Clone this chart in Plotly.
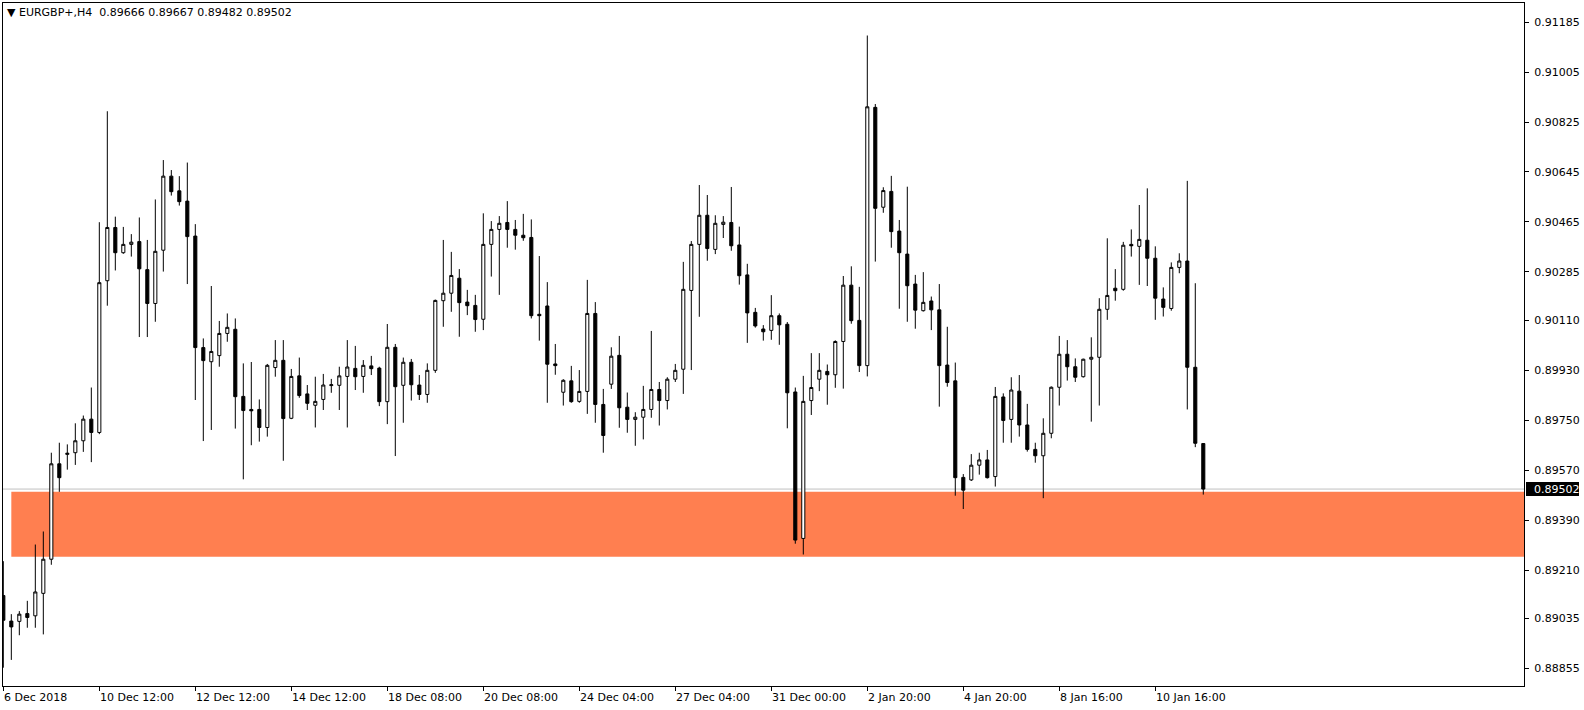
import plotly.graph_objects as go

# ---- data (EURGBP+, H4) ----
opens = [0.89118,0.89026,0.89025,0.89053,0.89045,0.89126,0.89249,0.89593,0.89627,0.89633,
 0.89676,0.89754,0.89706,0.90253,0.90445,0.90354,0.90384,0.90394,0.90293,0.90171,
 0.90363,0.90630,0.90577,0.90540,0.90414,0.90012,0.89961,0.89983,0.90063,0.90078,
 0.89836,0.89789,0.89789,0.89724,0.89940,0.89966,0.89757,0.89910,0.89845,0.89804,
 0.89825,0.89875,0.89876,0.89908,0.89937,0.89908,0.89946,0.89938,0.89817,0.90013,
 0.89876,0.89959,0.89877,0.89843,0.89930,0.90181,0.90208,0.90262,0.90176,0.90164,
 0.90114,0.90384,0.90438,0.90463,0.90438,0.90417,0.90409,0.90132,0.90162,0.89953,
 0.89851,0.89892,0.89818,0.89854,0.90135,0.89807,0.89880,0.89984,0.89797,0.89753,
 0.89761,0.89789,0.89861,0.89821,0.89898,0.89934,0.90218,0.90384,0.90489,0.90366,
 0.90456,0.90463,0.90382,0.90274,0.90139,0.90079,0.90074,0.90127,0.90096,0.89852,
 0.89324,0.89821,0.89898,0.89926,0.89914,0.90034,0.90237,0.90110,0.89947,0.90878,
 0.90518,0.90575,0.90432,0.90349,0.90241,0.90145,0.90180,0.90148,0.89949,0.89892,
 0.89544,0.89535,0.89588,0.89607,0.89547,0.89834,0.89753,0.89855,0.89733,0.89645,
 0.89622,0.89703,0.89869,0.89988,0.89943,0.89907,0.89970,0.89977,0.90150,0.90226,
 0.90222,0.90384,0.90377,0.90399,0.90334,0.90187,0.90153,0.90301,0.90324,0.89941,
 0.89666]
highs = [0.89242,0.89051,0.89062,0.89099,0.89302,0.89349,0.89633,0.89669,0.89663,0.89739,
 0.89767,0.89868,0.90464,0.90864,0.90484,0.90447,0.90421,0.90481,0.90400,0.90546,
 0.90688,0.90652,0.90630,0.90679,0.90457,0.90045,0.90234,0.90108,0.90135,0.90117,
 0.89955,0.89960,0.89825,0.89953,0.90039,0.90039,0.89935,0.89976,0.89877,0.89907,
 0.89917,0.89899,0.89943,0.90039,0.90018,0.89967,0.89982,0.89943,0.90097,0.90025,
 0.89976,0.89971,0.89913,0.89955,0.90185,0.90400,0.90357,0.90295,0.90220,0.90202,
 0.90496,0.90468,0.90486,0.90540,0.90472,0.90494,0.90474,0.90342,0.90248,0.90025,
 0.89898,0.89946,0.89931,0.90256,0.90176,0.89863,0.90013,0.90054,0.89850,0.89779,
 0.89874,0.90072,0.89888,0.89905,0.89953,0.90321,0.90396,0.90598,0.90562,0.90489,
 0.90486,0.90591,0.90448,0.90314,0.90155,0.90093,0.90201,0.90135,0.90104,0.89868,
 0.89910,0.89992,0.89992,0.89951,0.90038,0.90270,0.90305,0.90231,0.91137,0.90890,
 0.90590,0.90631,0.90472,0.90592,0.90274,0.90284,0.90196,0.90241,0.90087,0.89958,
 0.89556,0.89628,0.89633,0.89643,0.89870,0.89847,0.89905,0.89913,0.89809,0.89669,
 0.89757,0.89872,0.90054,0.90039,0.89973,0.89972,0.90049,0.90190,0.90406,0.90295,
 0.90393,0.90438,0.90526,0.90586,0.90377,0.90229,0.90319,0.90352,0.90613,0.90244,
 0.89667]
lows = [0.88858,0.88886,0.88975,0.89002,0.89002,0.88978,0.89229,0.89492,0.89572,0.89589,
 0.89636,0.89599,0.89700,0.90163,0.90290,0.90350,0.90340,0.90050,0.90050,0.90105,
 0.90286,0.90560,0.90524,0.90241,0.89823,0.89675,0.89715,0.89943,0.90033,0.89720,
 0.89537,0.89660,0.89673,0.89691,0.89907,0.89604,0.89754,0.89831,0.89787,0.89724,
 0.89787,0.89849,0.89787,0.89724,0.89859,0.89849,0.89913,0.89801,0.89736,0.89621,
 0.89741,0.89821,0.89823,0.89813,0.89921,0.90087,0.90141,0.90051,0.90129,0.90069,
 0.90075,0.90268,0.90202,0.90372,0.90365,0.90397,0.90117,0.90037,0.89813,0.89914,
 0.89803,0.89813,0.89813,0.89773,0.89741,0.89633,0.89863,0.89723,0.89705,0.89658,
 0.89681,0.89759,0.89731,0.89789,0.89888,0.89845,0.89931,0.90123,0.90325,0.90349,
 0.90407,0.90361,0.90239,0.90029,0.90084,0.90037,0.90040,0.90022,0.89721,0.89305,
 0.89266,0.89769,0.89855,0.89806,0.89867,0.89864,0.90098,0.89924,0.89908,0.90322,
 0.90498,0.90372,0.90152,0.90105,0.90080,0.90142,0.90075,0.89799,0.89871,0.89478,
 0.89430,0.89531,0.89554,0.89540,0.89511,0.89669,0.89669,0.89691,0.89637,0.89597,
 0.89469,0.89685,0.89803,0.89893,0.89888,0.89904,0.89745,0.89803,0.90112,0.90181,
 0.90217,0.90340,0.90238,0.90234,0.90112,0.90124,0.90145,0.90280,0.89789,0.89653,
 0.89482]
closes = [0.89029,0.89005,0.89051,0.89039,0.89131,0.89249,0.89593,0.89543,0.89631,0.89676,
 0.89754,0.89706,0.90246,0.90445,0.90354,0.90384,0.90392,0.90296,0.90171,0.90359,
 0.90630,0.90574,0.90538,0.90412,0.90012,0.89965,0.89998,0.90063,0.90085,0.89835,
 0.89785,0.89784,0.89724,0.89948,0.89966,0.89756,0.89908,0.89839,0.89811,0.89818,
 0.89877,0.89878,0.89910,0.89942,0.89907,0.89948,0.89936,0.89817,0.90013,0.89871,
 0.89959,0.89878,0.89843,0.89930,0.90182,0.90208,0.90272,0.90174,0.90163,0.90113,
 0.90384,0.90438,0.90460,0.90438,0.90417,0.90408,0.90127,0.90127,0.89952,0.89947,
 0.89894,0.89817,0.89854,0.90135,0.89807,0.89695,0.89981,0.89795,0.89753,0.89761,
 0.89789,0.89861,0.89821,0.89898,0.89930,0.90222,0.90384,0.90489,0.90369,0.90460,
 0.90464,0.90379,0.90271,0.90137,0.90090,0.90069,0.90127,0.90094,0.89849,0.89318,
 0.89818,0.89868,0.89930,0.89914,0.90034,0.90237,0.90109,0.89947,0.90880,0.90514,
 0.90578,0.90430,0.90354,0.90235,0.90147,0.90175,0.90148,0.89947,0.89886,0.89543,
 0.89498,0.89588,0.89607,0.89543,0.89836,0.89749,0.89859,0.89733,0.89645,0.89622,
 0.89703,0.89869,0.89988,0.89943,0.89905,0.89970,0.89977,0.90150,0.90200,0.90217,
 0.90381,0.90379,0.90402,0.90334,0.90190,0.90157,0.90301,0.90324,0.89941,0.89667,
 0.89502]

bar_index = list(range(len(opens)))

time_tick_bars = [0, 12, 24, 36, 48, 60, 72, 84, 96, 108, 120, 132, 144]
time_tick_labels = ["6 Dec 2018", "10 Dec 12:00", "12 Dec 12:00", "14 Dec 12:00",
                    "18 Dec 08:00", "20 Dec 08:00", "24 Dec 04:00", "27 Dec 04:00",
                    "31 Dec 00:00", "2 Jan 20:00", "4 Jan 20:00", "8 Jan 16:00",
                    "10 Jan 16:00"]
price_tick_labels = ["0.91185", "0.91005", "0.90825", "0.90645", "0.90465", "0.90285",
                     "0.90110", "0.89930", "0.89750", "0.89570", "0.89390", "0.89210",
                     "0.89035", "0.88855"]

symbol = "EURGBP+,H4"
zone_top = 0.89492
zone_bottom = 0.89258
zone_start_bar = 1

# ---- figure ----
W, H = 1584, 710
ML, MR, MT, MB = 3, 60, 3, 24
X_RANGE = [-0.04, 190.09]
Y_RANGE = [0.88792, 0.912542]
FONT = "DejaVu Sans"

fig = go.Figure()
fig.add_trace(go.Candlestick(
    x=bar_index, open=opens, high=highs, low=lows, close=closes,
    increasing=dict(line=dict(color="black", width=1), fillcolor="white"),
    decreasing=dict(line=dict(color="black", width=1), fillcolor="black"),
    whiskerwidth=0, hoverinfo="skip", showlegend=False,
))

last_price = closes[-1]

# supply/demand zone
fig.add_shape(type="rect", xref="x", yref="y",
              x0=zone_start_bar, x1=X_RANGE[1], y0=zone_bottom, y1=zone_top,
              fillcolor="#FF7F50", line=dict(width=0), layer="below")
# bid line
fig.add_shape(type="line", xref="paper", yref="y", x0=0, x1=1,
              y0=last_price, y1=last_price,
              line=dict(color="#C0C0C0", width=1), layer="below")

plot_w = W - ML - MR
plot_h = H - MT - MB
yp = (last_price - Y_RANGE[0]) / (Y_RANGE[1] - Y_RANGE[0])
fig.add_shape(type="rect", xref="paper", yref="paper",
              x0=1 + 2 / plot_w, x1=1 + 55 / plot_w,
              y0=yp - 7 / plot_h, y1=yp + 7 / plot_h,
              fillcolor="black", line=dict(width=0))

annotations = []
annotations.append(dict(
    xref="paper", yref="paper", x=1 + 8 / plot_w, y=yp, xanchor="left", yanchor="middle",
    text=f"{last_price:.5f}", showarrow=False,
    font=dict(family=FONT, size=11, color="white")))

for b, lab in zip(time_tick_bars, time_tick_labels):
    annotations.append(dict(
        xref="x", yref="paper", x=b, y=0, xanchor="left", yanchor="middle",
        yshift=-11, xshift=-1, text=lab, showarrow=False,
        font=dict(family=FONT, size=11, color="black")))

header = ("\u25BC\u00a0" + symbol + "\u00a0\u00a0" +
          "\u00a0".join(f"{v:.5f}" for v in (opens[-1], highs[-1], lows[-1], closes[-1])))
annotations.append(dict(
    xref="paper", yref="paper", x=0, y=1, xanchor="left", yanchor="top",
    xshift=2, yshift=-1, text=header, showarrow=False,
    font=dict(family=FONT, size=11, color="black")))

fig.update_layout(
    width=W, height=H,
    margin=dict(l=ML, r=MR, t=MT, b=MB, pad=0),
    paper_bgcolor="white", plot_bgcolor="white",
    boxgap=0.45,
    annotations=annotations,
    font=dict(family=FONT, size=11, color="black"),
    xaxis=dict(range=X_RANGE, rangeslider=dict(visible=False), showgrid=False,
               zeroline=False, tickvals=time_tick_bars, ticktext=[""] * len(time_tick_bars),
               ticks="outside", ticklen=4, tickcolor="black", tickwidth=1,
               showline=True, linecolor="black", linewidth=1, mirror=True, fixedrange=True),
    yaxis=dict(range=Y_RANGE, side="right", showgrid=False, zeroline=False,
               tickvals=[float(t) for t in price_tick_labels], ticktext=price_tick_labels,
               ticks="outside", ticklen=4, tickcolor="black", tickwidth=1,
               ticklabelstandoff=3,
               showline=True, linecolor="black", linewidth=1, mirror=True,
               tickfont=dict(family=FONT, size=11, color="black"), fixedrange=True),
)

fig.write_html("out.html", config={"displayModeBar": False},
               post_script="document.body.style.margin='0';document.body.style.overflow='hidden';")
